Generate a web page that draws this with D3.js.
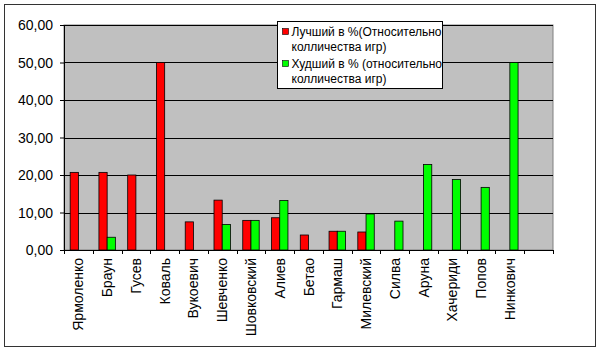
<!DOCTYPE html>
<html>
<head>
<meta charset="utf-8">
<script src="https://cdn.jsdelivr.net/npm/d3@7"></script>
<style>
  body { margin: 0; background: #fff; }
  text { font-family: Arial, "Liberation Sans", sans-serif; fill: #000; }
</style>
</head>
<body>
<div id="chart"></div>
<script>
// players (last slot is an empty category in the original sheet)
const players = ["Ярмоленко", "Браун", "Гусев", "Коваль", "Вукоевич", "Шевченко", "Шовковский",
  "Алиев", "Бетао", "Гармаш", "Милевский", "Силва", "Аруна", "Хачериди", "Попов", "Нинкович", ""];
// best, % of games played
const bestPct = [20.7, 20.7, 20.0, 50.0, 7.5, 13.3, 7.9, 8.6, 4.0, 5.0, 4.8, 0, 0, 0, 0, 0, null];
// worst, % of games played
const worstPct = [0, 3.4, 0, 0, 0, 6.8, 7.9, 13.2, 0, 5.0, 9.6, 7.7, 22.8, 18.8, 16.7, 50.0, null];
const yTicks = [0, 10, 20, 30, 40, 50, 60];
const seriesNames = ["Лучший в %(Относительно", "колличества игр)", "Худший в % (относительно", "колличества игр)"];

const W = 600, H = 353;
const margin = {left: 64, right: 47, top: 25, bottom: 103};
const width = W - margin.left - margin.right;
const height = H - margin.top - margin.bottom;

const root = d3.select("#chart").append("svg")
    .attr("width", W)
    .attr("height", H);

// outer chart border
root.append("rect")
    .attr("x", 4.5).attr("y", 4.5)
    .attr("width", 591).attr("height", 342)
    .attr("fill", "#fff")
    .attr("stroke", "#333")
    .attr("stroke-width", 1);

const svg = root.append("g")
    .attr("transform", `translate(${margin.left},${margin.top})`);

const xScale = d3.scaleBand()
    .domain(d3.range(players.length))
    .range([0, width]);

const yScale = d3.scaleLinear()
    .domain([0, 60])
    .range([height, 0]);

// plot area
svg.append("rect")
    .attr("width", width)
    .attr("height", height)
    .attr("fill", "#c0c0c0")
    .attr("stroke", "#808080");

// gridlines
svg.append("g")
    .selectAll("line")
    .data(yTicks.slice(1))
    .join("line")
    .attr("x1", 0).attr("x2", width)
    .attr("y1", d => Math.round(yScale(d)) + 0.5)
    .attr("y2", d => Math.round(yScale(d)) + 0.5)
    .attr("stroke", "#000");

// bars
const barW = xScale.bandwidth() / 3.5;
const series = [{vals: bestPct, color: "#ff0000", off: -1}, {vals: worstPct, color: "#00ff00", off: 0}];
series.forEach(s => {
    svg.append("g")
        .selectAll("rect")
        .data(s.vals.map((v, i) => ({v, i})).filter(d => d.v))
        .join("rect")
        .attr("x", d => xScale(d.i) + xScale.bandwidth() / 2 + s.off * barW)
        .attr("y", d => yScale(d.v))
        .attr("width", barW)
        .attr("height", d => yScale(0) - yScale(d.v))
        .attr("fill", s.color)
        .attr("stroke", "#000")
        .attr("stroke-width", 0.8);
});

// y axis
const yAxis = svg.append("g")
    .call(d3.axisLeft(yScale).tickValues(yTicks).tickSize(4).tickPadding(7)
        .tickFormat(d => d3.format(".2f")(d).replace(".", ",")));
yAxis.select(".domain").attr("stroke", "#000");
yAxis.selectAll("text").style("font-size", "14px").attr("dy", "0.35em");

// x axis: ticks at category boundaries
const xAxis = svg.append("g")
    .attr("transform", `translate(0,${height})`);
xAxis.append("line")
    .attr("x1", 0).attr("x2", width)
    .attr("y1", 0.5).attr("y2", 0.5)
    .attr("stroke", "#000");
xAxis.selectAll(".tk")
    .data(d3.range(players.length + 1))
    .join("line")
    .attr("class", "tk")
    .attr("x1", d => Math.round(d * xScale.step()) + 0.5)
    .attr("x2", d => Math.round(d * xScale.step()) + 0.5)
    .attr("y1", 0).attr("y2", 4)
    .attr("stroke", "#000");
xAxis.selectAll(".lbl")
    .data(players)
    .join("text")
    .attr("class", "lbl")
    .attr("transform", (d, i) => `translate(${xScale(i) + xScale.bandwidth() / 2 + 5},8) rotate(-90)`)
    .attr("text-anchor", "end")
    .style("font-size", "14px")
    .text(d => d);

// legend
const legend = root.append("g").attr("transform", "translate(277.5,21.5)");
legend.append("rect")
    .attr("width", 165).attr("height", 67)
    .attr("fill", "#fff").attr("stroke", "#000");
[0, 1].forEach(k => {
    legend.append("rect")
        .attr("x", 5).attr("y", 7 + k * 32)
        .attr("width", 6).attr("height", 6)
        .attr("fill", series[k].color).attr("stroke", "#000").attr("stroke-width", 0.6);
});
legend.selectAll(".lt")
    .data(seriesNames)
    .join("text")
    .attr("class", "lt")
    .attr("x", 14)
    .attr("y", (d, i) => 14 + i * 15 + (i > 1 ? 2 : 0))
    .style("font-size", "12px")
    .text(d => d);
</script>
</body>
</html>
